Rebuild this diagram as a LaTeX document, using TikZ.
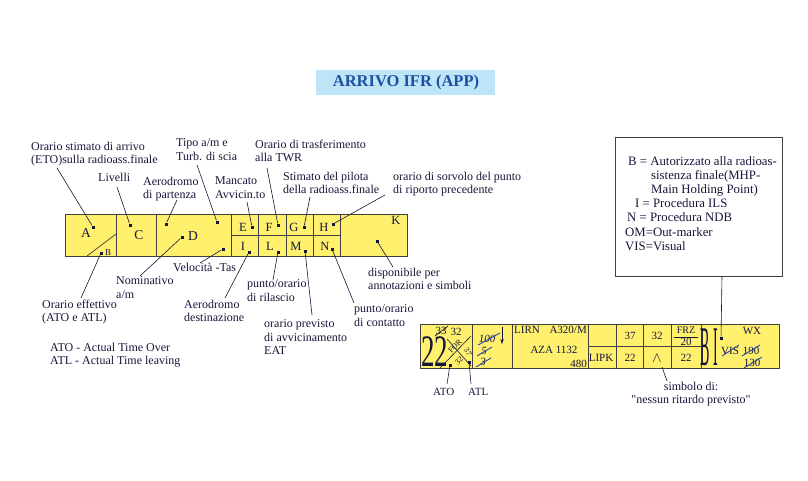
\documentclass[tikz,border=0pt]{standalone}
\usepackage{fontspec}
\setmainfont{Liberation Serif}
\newfontfamily\rawserif{Liberation Serif}
\usepackage{graphicx}
\usetikzlibrary{arrows.meta}
\definecolor{stripY}{HTML}{FFF06E}
\definecolor{titleBG}{HTML}{BEE4F8}
\definecolor{titleFG}{HTML}{1F4FA0}
\definecolor{ink}{HTML}{16163A}
\definecolor{strike}{HTML}{2A45A8}
\begin{document}
\begin{tikzpicture}[x=1pt,y=-1pt,
  lbl/.style={anchor=north west,inner sep=0pt,align=left,font=\fontsize{12}{13.5}\selectfont,text=ink},
  dotm/.style={fill=ink,inner sep=0pt,minimum size=3pt},
  leader/.style={draw=ink,line width=0.6pt},
  cellline/.style={draw=black!75,line width=0.9pt},
  bigl/.style={inner sep=0pt,font=\fontsize{13.5}{13.5}\selectfont,text=ink},
  midl/.style={inner sep=0pt,font=\fontsize{12.5}{12.5}\selectfont,text=ink},
  stxt/.style={inner sep=0pt,font=\fontsize{11}{11}\selectfont,text=ink},
  rtxt/.style={inner sep=0pt,font=\fontsize{8}{8}\selectfont,text=ink},
  strk/.style={draw=strike,line width=0.9pt},
]
\useasboundingbox (0,0) rectangle (808,480);

% title
\fill[titleBG] (316,70) rectangle (495,95);
\node[inner sep=0pt,font=\fontsize{16.5}{16.5}\selectfont\bfseries,text=titleFG] (title) at (406,83) {ARRIVO IFR (APP)};

% ---------- strip 1 ----------
\fill[stripY] (65,214) rectangle (407,256);
\draw[cellline] (65,214) rectangle (407,256);
\foreach \x in {116,156,231,258,286,313,340} \draw[cellline] (\x,214) -- (\x,256);
\draw[cellline] (231,235) -- (340,235);
\coordinate (diagA) at (87,256);
\coordinate (diagB) at (116,234);
\draw[cellline,line width=0.7pt] (diagA) -- (diagB);

\node[bigl] (A) at (86,233) {A};
\node[inner sep=0pt,font=\fontsize{9}{9}\selectfont,text=ink] (B) at (108,253) {B};
\node[bigl] (C) at (139,235) {C};
\node[bigl] (D) at (193,236) {D};
\node[midl] (E) at (243,227) {E};
\node[midl] (F) at (269,227) {F};
\node[midl] (G) at (294,227) {G};
\node[midl] (H) at (324,227) {H};
\node[midl] (K) at (396,220) {K};
\node[midl] (I) at (243,246) {I};
\node[midl] (L) at (270,246) {L};
\node[midl] (M) at (296,246) {M};
\node[midl] (N) at (325,246) {N};

% dots
\node[dotm] (dA) at (93,227) {};
\node[dotm] (dC) at (130,225) {};
\node[dotm] (dD1) at (166,224) {};
\node[dotm] (dD2) at (217,222) {};
\node[dotm] (dE) at (252,227) {};
\node[dotm] (dF) at (278,225) {};
\node[dotm] (dG) at (304,227) {};
\node[dotm] (dH) at (333,224) {};
\node[dotm] (dD3) at (182,237) {};
\node[dotm] (dD4) at (223,249) {};
\node[dotm] (dB) at (101,253) {};
\node[dotm] (dI) at (249,252) {};
\node[dotm] (dL) at (278,252) {};
\node[dotm] (dM) at (305,251) {};
\node[dotm] (dN) at (332,249) {};
\node[dotm] (dK) at (377,241) {};

% labels
\node[lbl] (l1) at (31,141.5) {Orario stimato di arrivo\\(ETO)sulla radioass.finale};
\node[lbl] (l2) at (98,172.5) {Livelli};
\node[lbl] (l3) at (143,176.5) {Aerodromo\\di partenza};
\node[lbl] (l4) at (176,138.5) {Tipo a/m e\\Turb. di scia};
\node[lbl] (l5) at (215,176.5) {Mancato\\Avvicin.to};
\node[lbl] (l6) at (255,139.5) {Orario di trasferimento\\alla TWR};
\node[lbl] (l7) at (283,171.5) {Stimato del pilota\\della radioass.finale};
\node[lbl] (l8) at (393,171.5) {orario di sorvolo del punto\\di riporto precedente};
\node[lbl] (l9) at (116,276.5) {Nominativo\\a/m};
\node[lbl] (l10) at (173,262.5) {Velocità -Tas};
\node[lbl] (l11) at (42,299.5) {Orario effettivo\\(ATO e ATL)};
\node[lbl] (l12) at (184,299.5) {Aerodromo\\destinazione};
\node[lbl] (l13) at (247,279.5) {punto/orario\\di rilascio};
\node[lbl] (l14) at (264,319.5) {orario previsto\\di avvicinamento\\EAT};
\node[lbl] (l15) at (354,304.5) {punto/orario\\di contatto};
\node[lbl] (l16) at (368,267.5) {disponibile per\\annotazioni e simboli};
\node[lbl] (l17) at (50,342.5) {ATO - Actual Time Over\\ATL - Actual Time leaving};

% leader starts
\coordinate (s1) at (57,168);
\coordinate (s2) at (117,187);
\coordinate (s3) at (177,200);
\coordinate (s4) at (197,165);
\coordinate (s5) at (247,202);
\coordinate (s6) at (267,168);
\coordinate (s7) at (310,197);
\coordinate (s8) at (385,195);
\coordinate (s9) at (140,276);
\coordinate (s10) at (200,263);
\coordinate (s11) at (81,298);
\coordinate (s12) at (225,298);
\coordinate (s13) at (273,280);
\coordinate (s14) at (312,315);
\coordinate (s15) at (354,303);
\coordinate (s16) at (393,267);
\draw[leader] (s1) -- (dA);
\draw[leader] (s2) -- (dC);
\draw[leader] (s3) -- (dD1);
\draw[leader] (s4) -- (dD2);
\draw[leader] (s5) -- (dE);
\draw[leader] (s6) -- (dF);
\draw[leader] (s7) -- (dG);
\draw[leader] (s8) -- (dH);
\draw[leader] (s9) -- (dD3);
\draw[leader] (s10) -- (dD4);
\draw[leader] (s11) -- (dB);
\draw[leader] (s12) -- (dI);
\draw[leader] (s13) -- (dL);
\draw[leader] (s14) -- (dM);
\draw[leader] (s15) -- (dN);
\draw[leader] (s16) -- (dK);

% ---------- legend box ----------
\draw[black!75,line width=0.8pt] (615,137) rectangle (782,276);
\node[anchor=north west,inner sep=0pt,align=left,font=\fontsize{12.8}{14.1}\selectfont,text=ink] (legend) at (625,156.5)
 {\hspace*{3pt}B = Autorizzato alla radioas-\\
  \hspace*{26pt}sistenza finale(MHP-\\
  \hspace*{26pt}Main Holding Point)\\
  \hspace*{10pt}I = Procedura ILS\\
  \hspace*{2pt}N = Procedura NDB\\
  OM=Out-marker\\
  VIS=Visual};
\coordinate (legbot) at (722,276);

% ---------- strip 2 ----------
\fill[stripY] (420,324) rectangle (779,368);
\draw[cellline] (420,324) rectangle (779,368);
\foreach \x in {472,512,588,616,643,671,701} \draw[cellline] (\x,324) -- (\x,368);
\draw[cellline] (588,346) -- (701,346);

% cell 1
\node[anchor=south west,inner sep=0pt,text=ink] (n22) at (421,367) {\scalebox{0.6}[1]{\fontsize{45}{45}\selectfont 22}};
\node[stxt] (n33) at (441,331) {33};
\node[stxt] (n32a) at (456,332) {32};
\draw[draw=ink,line width=0.7pt] (435,336) -- (448,326);
\coordinate (xa1) at (440,368); \coordinate (xa2) at (471,336);
\coordinate (xb1) at (447,339); \coordinate (xb2) at (471,366);
\draw[draw=ink,line width=0.6pt] (xa1) -- (xa2);
\draw[draw=ink,line width=0.6pt] (xb1) -- (xb2);
\node[rtxt,rotate=45] (nFOR) at (455,346) {FOR};
\node[rtxt,rotate=45] (n32b) at (459,361) {32};
\node[rtxt,rotate=-60] (n37a) at (468,352) {37};
\node[dotm] (dATO) at (450,365) {};
\node[dotm] (dATL) at (469,362) {};
\node[stxt,anchor=north west] (ATO) at (433,388) {ATO};
\node[stxt,anchor=north west] (ATL) at (468,388) {ATL};
\coordinate (sATO) at (447,384);
\coordinate (sATL) at (471,384);
\draw[leader] (sATO) -- (dATO);
\draw[leader] (sATL) -- (dATL);

% cell 2
\node[stxt,font=\fontsize{11}{11}\selectfont\itshape] (n100) at (487,339) {100};
\draw[strk] (478,345) -- (500,333);
\node[stxt,font=\fontsize{11}{11}\selectfont\itshape] (n5) at (484,351) {5};
\draw[strk] (477,356) -- (492,347);
\node[stxt,font=\fontsize{11}{11}\selectfont\itshape] (n3) at (483,362) {3};
\draw[strk] (476,367) -- (491,358);
\coordinate (arT) at (502,327);
\coordinate (arB) at (502,344);
\draw[draw=ink,line width=0.7pt,-{Stealth[length=5pt,width=3.5pt]}] (arT) -- (arB);

% cell 3
\node[stxt,anchor=west] (LIRN) at (514,330) {LIRN};
\node[stxt,anchor=east] (A320) at (587,330) {A320/M};
\node[stxt] (AZA) at (554,350) {AZA 1132};
\node[stxt,anchor=east] (n480) at (587,364) {480};
% cell 4
\node[stxt] (LIPK) at (601,358) {LIPK};
% cell 5
\node[stxt] (n37) at (630,336) {37};
\node[stxt] (n22b) at (630,358) {22};
% cell 6
\node[stxt] (n32c) at (657,336) {32};
\node[inner sep=0pt,text=ink,font=\fontsize{15}{15}\selectfont] (wedge) at (657,358) {$\wedge$};
% cell 7
\node[stxt,font=\fontsize{10}{10}\selectfont] (FRZ) at (686,330) {FRZ};
\draw[draw=ink,line width=0.6pt] (674,337) -- (698,337);
\node[stxt] (n20) at (686,342) {20};
\node[stxt] (n22c) at (686,358) {22};
% cell 8
\node[anchor=south,inner sep=0pt,text=ink] (bigB) at (705.5,366) {\scalebox{0.25}[1]{\fontsize{56}{56}\selectfont B}};
\node[anchor=south,inner sep=0pt,text=ink] (bigI) at (715.5,366) {\scalebox{0.25}[1]{\fontsize{56}{56}\selectfont I}};
\node[stxt] (WX) at (752,331) {WX};
\node[stxt] (VIS) at (730,351) {VIS};
\draw[strk] (722,356) -- (739,345);
\node[stxt] (n190) at (751,351) {190};
\draw[strk] (742,356) -- (760,345);
\node[stxt] (n130) at (752,363) {130};
\draw[strk] (744,368) -- (762,357);
\node[dotm] (dBI) at (721,338) {};
\draw[leader] (legbot) -- (dBI);

% simbolo label
\node[lbl,anchor=north,align=center] (simb) at (691,381.5) {simbolo di:\\{\rawserif"}nessun ritardo previsto{\rawserif"}};
\coordinate (sW1) at (662,367);
\coordinate (sW2) at (667,381);
\draw[leader] (sW1) -- (sW2);
\end{tikzpicture}
\end{document}
